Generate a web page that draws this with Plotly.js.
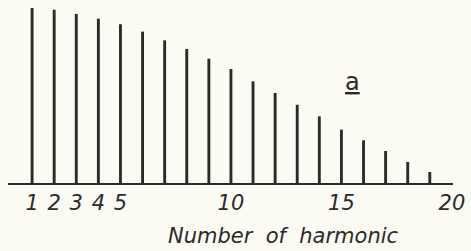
<!DOCTYPE html>
<html>
<head>
<meta charset="utf-8">
<script src="https://cdn.plot.ly/plotly-3.0.1.min.js"></script>
<style>
html,body{margin:0;padding:0;background:#fbfbf4;}
#chart{width:471px;height:251px;}
</style>
</head>
<body>
<div id="chart"></div>
<script>
// Harmonic numbers and their relative amplitudes (first harmonic = 100)
const harmonics = [1,2,3,4,5,6,7,8,9,10,11,12,13,14,15,16,17,18,19];
const amplitudes = [100,99,96.6,93.9,90.7,86.5,81.5,76.6,71,65.1,58.1,51.4,44.7,38.1,30.5,24.4,18.3,12,6.3];
const tickValues = [1,2,3,4,5,10,15,20];
const tickLabels = ["1","2","3","4","5","10","15","20"];
const xTitle = "Number  of  harmonic";
const panelLabel = "a";

const ink = "#2a2a2a";
const font = "DejaVu Sans, sans-serif";

const trace = {
  type: "bar",
  x: harmonics,
  y: amplitudes,
  width: 0.13,
  marker: {color: ink, line: {width: 0}},
  hoverinfo: "skip"
};

const layout = {
  width: 471,
  height: 251,
  margin: {l: 8, r: 18, t: 5, b: 68},
  paper_bgcolor: "#fbfbf4",
  plot_bgcolor: "#fbfbf4",
  showlegend: false,
  xaxis: {
    range: [-0.09, 20.05],
    showgrid: false,
    zeroline: false,
    showline: true,
    linecolor: ink,
    linewidth: 2,
    ticks: "",
    tickvals: tickValues,
    ticktext: tickLabels,
    tickfont: {family: font, size: 21, color: ink, style: "italic"},
    ticklabelstandoff: 0
  },
  yaxis: {
    range: [0, 101.7],
    visible: false,
    showgrid: false,
    zeroline: false
  },
  annotations: [
    {
      text: xTitle,
      xref: "x", yref: "paper",
      x: 12.4, y: -0.30,
      xanchor: "center", yanchor: "middle",
      showarrow: false,
      font: {family: font, size: 21, color: ink, style: "italic"}
    },
    {
      text: "<u>" + panelLabel + "</u>",
      xref: "x", yref: "paper",
      x: 15.5, y: 0.57,
      xanchor: "center", yanchor: "middle",
      showarrow: false,
      font: {family: font, size: 24, color: ink}
    }
  ]
};

Plotly.newPlot("chart", [trace], layout, {displayModeBar: false, staticPlot: true});
</script>
</body>
</html>
